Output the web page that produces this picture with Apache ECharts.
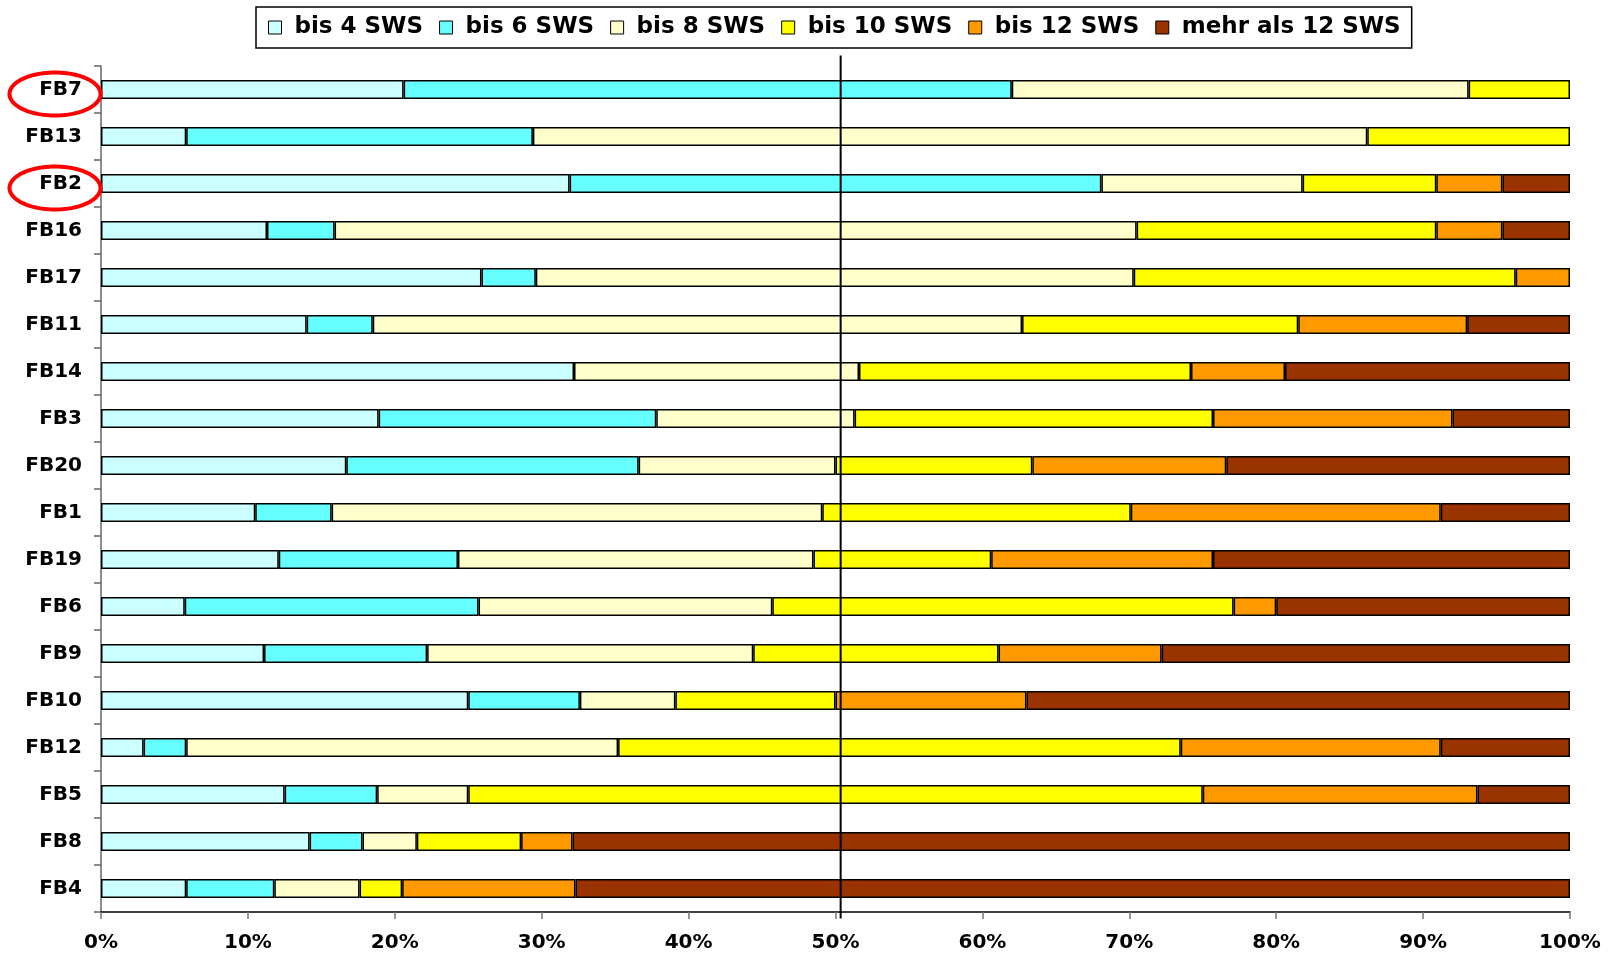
<!DOCTYPE html>
<html><head><meta charset="utf-8">
<script src="https://cdn.jsdelivr.net/npm/echarts@6/dist/echarts.min.js"></script>
<style>html,body{margin:0;padding:0;background:#fff;}#c{width:1617px;height:959px;}</style>
</head><body><div id="c"></div>
<script>
const categories = ['FB7','FB13','FB2','FB16','FB17','FB11','FB14','FB3','FB20','FB1','FB19','FB6','FB9','FB10','FB12','FB5','FB8','FB4'];
const seriesNames = ['bis 4 SWS','bis 6 SWS','bis 8 SWS','bis 10 SWS','bis 12 SWS','mehr als 12 SWS'];
const bis4  = [20.6, 5.8, 31.9, 11.3, 25.9, 14.0, 32.2, 18.9, 16.7, 10.5, 12.1, 5.7, 11.1, 25.0, 2.9, 12.5, 14.2, 5.8];
const bis6  = [41.4, 23.6, 36.2, 4.6, 3.7, 4.5, 0, 18.9, 19.9, 5.2, 12.2, 20.0, 11.1, 7.6, 2.9, 6.3, 3.6, 6.0];
const bis8  = [31.1, 56.8, 13.7, 54.6, 40.7, 44.2, 19.4, 13.5, 13.4, 33.4, 24.2, 20.0, 22.2, 6.5, 29.4, 6.2, 3.7, 5.8];
const bis10 = [6.9, 13.8, 9.1, 20.4, 26.0, 18.8, 22.6, 24.4, 13.4, 21.0, 12.1, 31.4, 16.7, 10.9, 38.3, 50.0, 7.1, 2.9];
const bis12 = [0, 0, 4.5, 4.5, 3.7, 11.5, 6.4, 16.3, 13.2, 21.1, 15.1, 2.9, 11.1, 13.0, 17.7, 18.7, 3.5, 11.8];
const mehr  = [0, 0, 4.6, 4.6, 0, 7.0, 19.4, 8.0, 23.4, 8.8, 24.3, 20.0, 27.8, 37.0, 8.8, 6.3, 67.9, 67.7];
const xTicks = [0,10,20,30,40,50,60,70,80,90,100];
const highlighted = ['FB7','FB2'];
const refLine = 50.35;

const colors = ['#CCFFFF','#66FFFF','#FFFFCC','#FFFF00','#FF9900','#993300'];
const allData = [bis4,bis6,bis8,bis10,bis12,mehr];
const FONT = '"DejaVu Sans", Arial, sans-serif';

const chart = echarts.init(document.getElementById('c'), null, {renderer:'canvas'});
const series = seriesNames.map((n,i)=>({
  name:n, type:'bar', stack:'total', barWidth:19,
  itemStyle:{color:colors[i], borderColor:'#000', borderWidth:1.5},
  data: allData[i].map(v=> v===0 ? null : v),
  animation:false
}));
chart.setOption({
  animation:false,
  backgroundColor:'#fff',
  legend:{
    data: seriesNames.map(n=>({name:n, icon:'rect'})),
    left:256, top:7,
    padding:[9,11,9,12],
    itemWidth:13, itemHeight:13, itemGap:16,
    borderColor:'#000', borderWidth:1.5, backgroundColor:'#fff',
    itemStyle:{borderColor:'#000', borderWidth:1},
    textStyle:{fontFamily:FONT, fontWeight:'bold', fontSize:23, color:'#000', padding:[0,0,0,8]}
  },
  grid:{left:101, right:47, top:66, bottom:47, containLabel:false},
  xAxis:{
    type:'value', min:0, max:100, interval:10,
    axisLine:{show:true, lineStyle:{color:'#000', width:1.5}},
    axisTick:{show:true, length:7, lineStyle:{color:'#777', width:1.5}},
    splitLine:{show:false},
    axisLabel:{formatter:v=> xTicks.includes(v) ? v+'%' : '', fontFamily:FONT, fontWeight:'bold', fontSize:20, color:'#000', margin:21}
  },
  yAxis:{
    type:'category', data:categories, inverse:true,
    axisLine:{show:true, lineStyle:{color:'#666', width:1.5}},
    axisTick:{show:true, length:7, lineStyle:{color:'#666', width:1.5}},
    axisLabel:{fontFamily:FONT, fontWeight:'bold', fontSize:20, color:'#000', margin:19}
  },
  series: series
});

// red ellipses around highlighted category labels
const graphics = highlighted.map(cat=>{
  const cy = chart.convertToPixel({yAxisIndex:0}, cat) + 4.5;
  const cx = 55, rx = 45.5, ry = 21.5;
  const pts = [];
  for(let k=0;k<96;k++){ const t=k/96*Math.PI*2; pts.push([cx+rx*Math.cos(t), cy+ry*Math.sin(t)]); }
  return {type:'polygon', shape:{points:pts}, style:{fill:'none', stroke:'#FF0000', lineWidth:4}, z:100};
});
// vertical reference line near 50 %
const lx = chart.convertToPixel({xAxisIndex:0}, refLine);
const yTop = chart.convertToPixel({yAxisIndex:0}, categories[0]) - 34;
const yBot = chart.convertToPixel({yAxisIndex:0}, categories[categories.length-1]) + 30;
graphics.push({type:'line', shape:{x1:lx, y1:yTop, x2:lx, y2:yBot}, style:{stroke:'#000', lineWidth:2}, z:100});
chart.setOption({graphic:graphics});
</script></body></html>
